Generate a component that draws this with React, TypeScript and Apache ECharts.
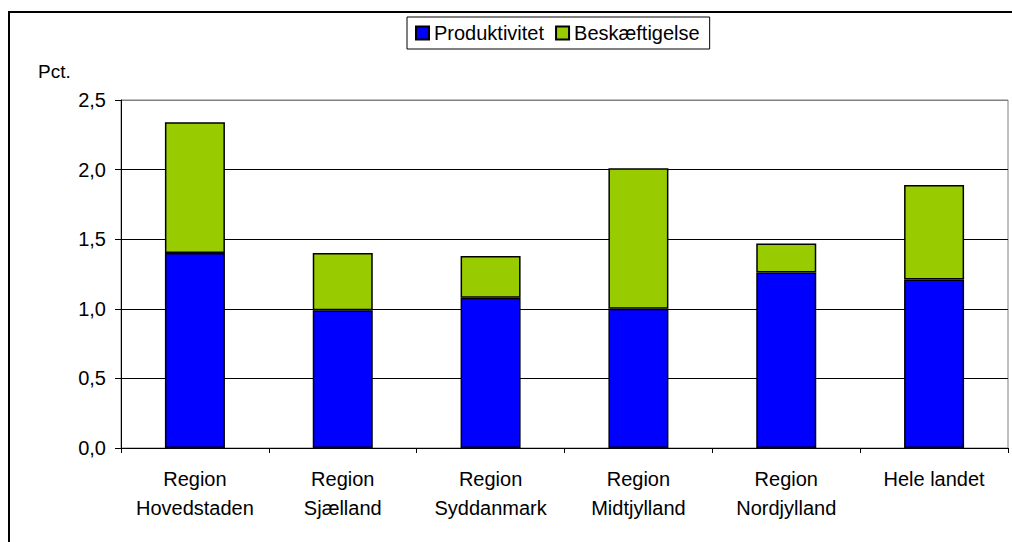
import React, { useEffect, useRef } from "react";
import * as echarts from "echarts";

const categories = [
  "Region\nHovedstaden",
  "Region\nSjælland",
  "Region\nSyddanmark",
  "Region\nMidtjylland",
  "Region\nNordjylland",
  "Hele landet",
];
const produktivitet = [1.4, 0.99, 1.08, 1.0, 1.26, 1.21];
const beskaeftigelse = [0.94, 0.41, 0.3, 1.01, 0.21, 0.68];
const yTicks = [0, 0.5, 1.0, 1.5, 2.0, 2.5];

const FONT = "'Liberation Sans', Arial, sans-serif";

export default function App() {
  const ref = useRef<HTMLDivElement>(null);
  useEffect(() => {
    if (!ref.current) return;
    const chart = echarts.init(ref.current, undefined, { renderer: "svg" });
    chart.setOption({
      animation: false,
      backgroundColor: "#fff",
      textStyle: { fontFamily: FONT },
      graphic: [
        {
          type: "rect",
          shape: { x: 9, y: 12, width: 1020, height: 560 },
          style: { fill: "none", stroke: "#000", lineWidth: 2 },
          silent: true,
        },
        {
          type: "text",
          x: 38,
          y: 71,
          style: {
            text: "Pct.",
            fontSize: 19,
            fontFamily: FONT,
            fill: "#000",
            textVerticalAlign: "middle",
            textAlign: "left",
          },
        },
      ],
      legend: {
        left: 407,
        top: 17,
        orient: "horizontal",
        icon: "rect",
        itemWidth: 13,
        itemHeight: 13,
        itemGap: 11,
        padding: [6, 10, 6, 8],
        borderColor: "#000",
        borderWidth: 1,
        textStyle: { fontSize: 20, fontFamily: FONT, color: "#000" },
        data: ["Produktivitet", "Beskæftigelse"],
      },
      grid: {
        left: 121,
        right: 4,
        top: 100,
        bottom: 94,
        show: true,
        borderColor: "#808080",
        borderWidth: 1,
        backgroundColor: "transparent",
      },
      xAxis: {
        type: "category",
        data: categories,
        boundaryGap: true,
        axisLine: { show: true, lineStyle: { color: "#000", width: 1 } },
        axisTick: {
          show: true,
          alignWithLabel: false,
          length: 5,
          lineStyle: { color: "#000" },
        },
        axisLabel: {
          interval: 0,
          margin: 16,
          fontSize: 20,
          lineHeight: 29,
          color: "#000",
          fontFamily: FONT,
        },
      },
      yAxis: {
        type: "value",
        min: yTicks[0],
        max: yTicks[yTicks.length - 1],
        interval: 0.5,
        axisLine: { show: true, lineStyle: { color: "#000", width: 1 } },
        axisTick: { show: true, length: 6, lineStyle: { color: "#000" } },
        axisLabel: {
          margin: 15,
          fontSize: 20,
          color: "#000",
          fontFamily: FONT,
          formatter: (v: number) => v.toFixed(1).replace(".", ","),
        },
        splitLine: {
          show: true,
          lineStyle: {
            color: ["#000", "#000", "#000", "#000", "#000", "#808080"],
            width: 1,
          },
        },
      },
      series: [
        {
          name: "Produktivitet",
          type: "bar",
          stack: "total",
          barWidth: 60,
          data: produktivitet,
          itemStyle: { color: "#0000FF", borderColor: "#000", borderWidth: 1.5 },
        },
        {
          name: "Beskæftigelse",
          type: "bar",
          stack: "total",
          barWidth: 60,
          data: beskaeftigelse,
          itemStyle: { color: "#99CC00", borderColor: "#000", borderWidth: 1.5 },
        },
      ],
    });
    return () => chart.dispose();
  }, []);
  return (
    <div
      ref={ref}
      style={{ position: "fixed", left: 0, top: 0, width: 1012, height: 542 }}
    />
  );
}
